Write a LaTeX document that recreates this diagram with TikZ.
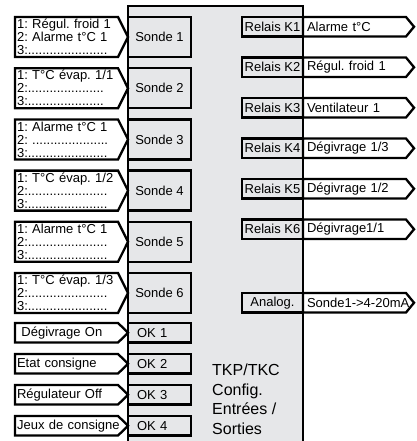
\documentclass[tikz,border=0pt]{standalone}
\usepackage{fontspec}
\setmainfont{Liberation Sans}
\usetikzlibrary{positioning,shapes.symbols}

\definecolor{panel}{RGB}{230,231,233}
\frenchspacing

\begin{document}
\begin{tikzpicture}[
  x=1pt, y=1pt,
  font=\fontsize{13}{13}\selectfont,
  box/.style={
    draw,
    line width=2.3pt,
    fill=panel,
    inner sep=0pt,
    outer sep=0pt
  },
  sonde/.style={box, minimum width=63pt, minimum height=40pt},
  okbox/.style={box, minimum height=19.5pt, text width=45pt, inner xsep=9pt, align=left},
  relais/.style={box, minimum width=61pt, minimum height=19.5pt},
  tag/.style={
    draw,
    line width=2.3pt,
    fill=white,
    shape=signal,
    signal from=nowhere,
    signal to=east,
    outer sep=0pt,
    inner ysep=0pt,
    align=left
  },
  probetag/.style={tag, signal pointer angle=127, minimum height=40pt, text width=99pt, inner xsep=2pt},
  inputtag/.style={tag, signal pointer angle=89, minimum height=19.5pt, text width=99pt, inner xsep=2pt},
  outputtag/.style={tag, signal pointer angle=101, minimum height=19.5pt, text width=95pt, inner xsep=4pt},
  title/.style={font=\fontsize{16}{19.5}\selectfont, align=left, inner sep=0pt, anchor=north west}
]
\useasboundingbox (0,0) rectangle (416,-441);

% --- central block (open at the bottom) ---
\fill[panel] (128,-6) rectangle (303,-441);
\draw[line width=2.3pt] (128,-441) -- (128,-6) -- (303,-6) -- (303,-441);

% --- probe inputs ---
\node[sonde, anchor=north west] (s1) at (128,-17) {Sonde 1};
\node[sonde, below=11.2pt of s1] (s2) {Sonde 2};
\node[sonde, below=11.2pt of s2] (s3) {Sonde 3};
\node[sonde, below=11.2pt of s3] (s4) {Sonde 4};
\node[sonde, below=11.2pt of s4] (s5) {Sonde 5};
\node[sonde, below=11.2pt of s5] (s6) {Sonde 6};

\node[probetag, left=0pt of s1] (p1) {1: Régul. froid 1\\2: Alarme t°C 1\\3:......................};
\node[probetag, left=0pt of s2] (p2) {1: T°C évap. 1/1\\2:.....................\\3:.....................};
\node[probetag, left=0pt of s3] (p3) {1: Alarme t°C 1\\2: .....................\\3:......................};
\node[probetag, left=0pt of s4] (p4) {1: T°C évap. 1/2\\2:......................\\3:......................};
\node[probetag, left=0pt of s5] (p5) {1: Alarme t°C 1\\2:......................\\3:......................};
\node[probetag, left=0pt of s6] (p6) {1: T°C évap. 1/3\\2:......................\\3:......................};

% --- digital inputs ---
\node[okbox, anchor=north west] (ok1) at (128,-323) {OK 1};
\node[okbox, below=11.5pt of ok1] (ok2) {OK 2};
\node[okbox, below=11.5pt of ok2] (ok3) {OK 3};
\node[okbox, below=11.5pt of ok3] (ok4) {OK 4};

\node[inputtag, left=0pt of ok1] (i1) {\ Dégivrage On};
\node[inputtag, left=0pt of ok2] (i2) {Etat consigne};
\node[inputtag, left=0pt of ok3] (i3) {Régulateur Off};
\node[inputtag, left=0pt of ok4] (i4) {\mbox{Jeux de consigne}};

% --- relay outputs ---
\node[relais, anchor=north west] (k1) at (242,-17) {Relais K1};
\node[relais, below=21pt of k1] (k2) {Relais K2};
\node[relais, below=21pt of k2] (k3) {Relais K3};
\node[relais, below=21pt of k3] (k4) {Relais K4};
\node[relais, below=21pt of k4] (k5) {Relais K5};
\node[relais, below=21pt of k5] (k6) {Relais K6};
\node[relais, anchor=north west] (an) at (242,-293) {Analog.};

\node[outputtag, right=0pt of k1] (o1) {Alarme t°C};
\node[outputtag, right=0pt of k2] (o2) {Régul. froid 1};
\node[outputtag, right=0pt of k3] (o3) {Ventilateur 1};
\node[outputtag, right=0pt of k4] (o4) {Dégivrage 1/3};
\node[outputtag, right=0pt of k5] (o5) {Dégivrage 1/2};
\node[outputtag, right=0pt of k6] (o6) {Dégivrage1/1};
\node[outputtag, right=0pt of an] (o7) {\mbox{Sonde1->4-20mA}};

% --- block title ---
\node[title] (name) at (212,-364) {TKP/TKC\\Config.\\Entrées /\\Sorties};

\end{tikzpicture}
\end{document}
